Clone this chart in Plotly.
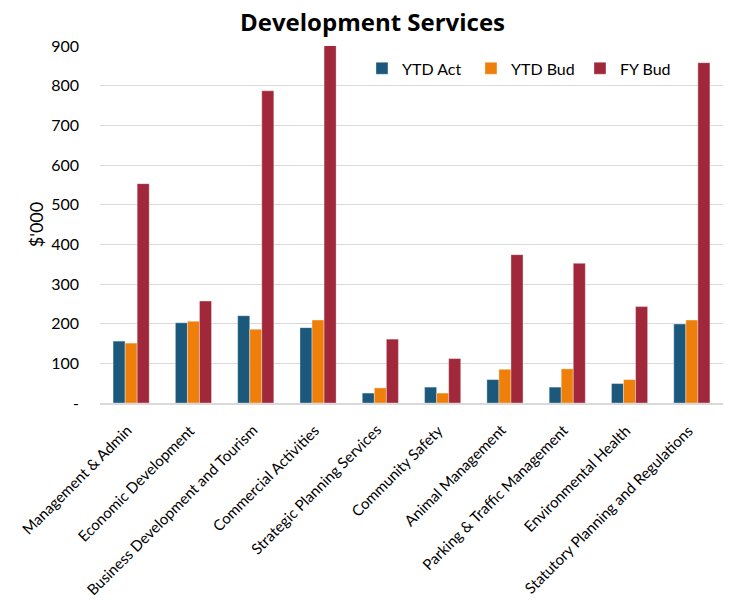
import plotly.graph_objects as go

categories = ["Management & Admin", "Economic Development", "Business Development and Tourism",
              "Commercial Activities", "Strategic Planning Services", "Community Safety",
              "Animal Management", "Parking & Traffic Management", "Environmental Health",
              "Statutory Planning and Regulations"]
ytd_act = [156, 202, 220, 190, 25, 40, 59, 40, 49, 199]
ytd_bud = [151, 206, 186, 209, 38, 25, 85, 86, 59, 209]
fy_bud = [553, 257, 787, 902, 161, 112, 374, 352, 243, 858]
tick_vals = [0, 100, 200, 300, 400, 500, 600, 700, 800, 900]
tick_text = ["-", "100", "200", "300", "400", "500", "600", "700", "800", "900"]

FONT = "Lato, 'Open Sans', sans-serif"

fig = go.Figure()
series = [("YTD Act", ytd_act, "#1B587C"), ("YTD Bud", ytd_bud, "#EF7F0B"), ("FY Bud", fy_bud, "#A1283A")]
for name, vals, col in series:
    fig.add_trace(go.Bar(name=name, x=categories, y=vals,
                         marker=dict(color=col, line=dict(color="rgba(255,255,255,0.35)", width=1))))

# category labels as rotated annotations (Excel-style anchoring)
for i, cat in enumerate(categories):
    fig.add_annotation(x=i, y=0, xref="x", yref="paper", text=cat, showarrow=False,
                       textangle=-45, xanchor="right", yanchor="top", xshift=7, yshift=-15,
                       font=dict(family=FONT, size=15, color="#000000"))

fig.update_layout(
    width=729, height=600,
    barmode="group", bargap=0.42, bargroupgap=0,
    plot_bgcolor="white", paper_bgcolor="white",
    margin=dict(l=100, r=6, t=46, b=197),
    font=dict(family=FONT, size=16, color="#000000"),
    title=dict(text="<b>Development Services</b>", x=0.511, xanchor="center", y=0.962, yanchor="middle",
               font=dict(family="'Open Sans', sans-serif", size=24, color="#000000")),
    legend=dict(orientation="h", x=0.4205, y=0.985, xanchor="left", yanchor="top",
                font=dict(family=FONT, size=16), bgcolor="rgba(255,255,255,0)", itemwidth=30,
                entrywidth=64, entrywidthmode="pixels", tracegroupgap=0),
    showlegend=True,
)
fig.update_yaxes(range=[0, 900], tickvals=tick_vals, ticktext=tick_text, showgrid=True,
                 gridcolor="#D9D9D9", gridwidth=1, zeroline=False, ticks="", ticklabelstandoff=20,
                 title=dict(text="$'000", font=dict(family=FONT, size=18), standoff=2),
                 tickfont=dict(family=FONT, size=16))
fig.update_xaxes(type="category", range=[-0.5, len(categories) - 0.5], autorange=False,
                 showline=True, linecolor="#D9D9D9", linewidth=2, showticklabels=False, ticks="")

fig.write_html("out.html")
